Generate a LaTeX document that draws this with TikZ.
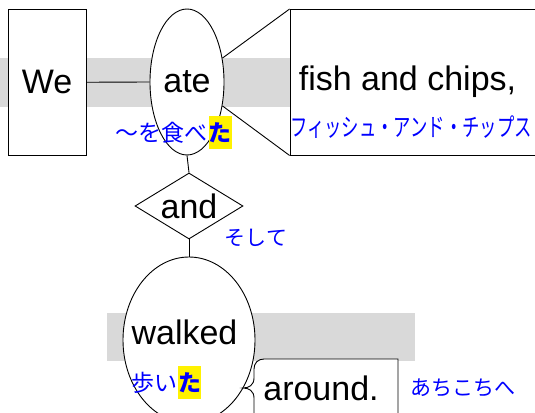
\documentclass[tikz,border=0pt]{standalone}
\usepackage{fontspec}
\setmainfont{Liberation Sans}
\newfontfamily\jp{Noto Sans CJK JP}
\usetikzlibrary{shapes.geometric}
\definecolor{bandgray}{RGB}{217,217,217}
\begin{document}
\begin{tikzpicture}[x=1pt,y=-1pt,
  line width=0.9pt,
  box/.style={draw,fill=white,inner sep=0pt},
  word/.style={font=\fontsize{34}{40}\selectfont,inner sep=0pt},
  jpl/.style={font=\jp\fontsize{23}{25}\selectfont,text=blue,inner sep=0pt},
  jps/.style={font=\jp\fontsize{21}{23}\selectfont,text=blue,inner sep=0pt},
  hl/.style={font=\jp\bfseries\fontsize{23}{25}\selectfont,text=blue,fill=yellow,inner sep=0pt,minimum width=22pt,minimum height=33pt},
  band/.style={fill=bandgray}]
\clip (0,0) rectangle (535,412);
% grey bands
\fill[band] (0,58) rectangle (290,107);
\fill[band] (107,313) rectangle (415,361);
% top row
\node[box,minimum width=78pt,minimum height=145.5pt] (we) at (47,82.25) {};
\node[word] (wetext) at (we) {We};
\node[box,ellipse,minimum width=74pt,minimum height=146pt] (ate) at (187,82) {};
\node[word] (atetext) at (ate) {ate};
\node[box,minimum width=255pt,minimum height=145.5pt] (fish) at (417.5,82.25) {};
\node[word] (fishtext) at (407.5,82) {fish and chips,};
\draw (we.east) -- (ate.west);
\draw (ate.34) -- (fish.north west);
\draw (ate.-34) -- (fish.south west);
% conjunction
\node[box,diamond,minimum width=108pt,minimum height=66pt] (and) at (189,206) {};
\node[word] (andtext) at (and) {and};
\draw (ate.south) -- (and.north);
% walked
\node[box,ellipse,minimum width=132pt,minimum height=166pt] (walked) at (189,340) {};
\node[word] (walkedtext) at (184.5,332) {walked};
\draw (and.south) -- (walked.north);
% around box with brace
\coordinate (tip) at (243,388);
\draw[fill=white] (398,430) -- (398,359) -- (264,359)
  .. controls (258,359) and (254,363) .. (254,369) -- (254,378)
  .. controls (254,385) and (249,388) .. (tip)
  .. controls (249,388) and (254,391) .. (254,398) -- (254,430);
\node[word] (aroundtext) at (321,388) {around.};
% Japanese glosses
\node[hl] (ta1) at (220,132.5) {た};
\node[jpl,anchor=east] (ate-jp) at (ta1.west) {～を食べ};
\node[jpl,font=\jp\fontsize{25}{27}\selectfont] (fish-jp) at (411,127) {\resizebox{242pt}{\height}{フィッシュ・アンド・チップス}};
\node[jps] (and-jp) at (256,238) {そして};
\node[hl] (ta2) at (189.5,382.5) {た};
\node[jpl,anchor=east] (walked-jp) at (ta2.west) {歩い};
\node[jps] (around-jp) at (463,388) {あちこちへ};
\end{tikzpicture}
\end{document}
